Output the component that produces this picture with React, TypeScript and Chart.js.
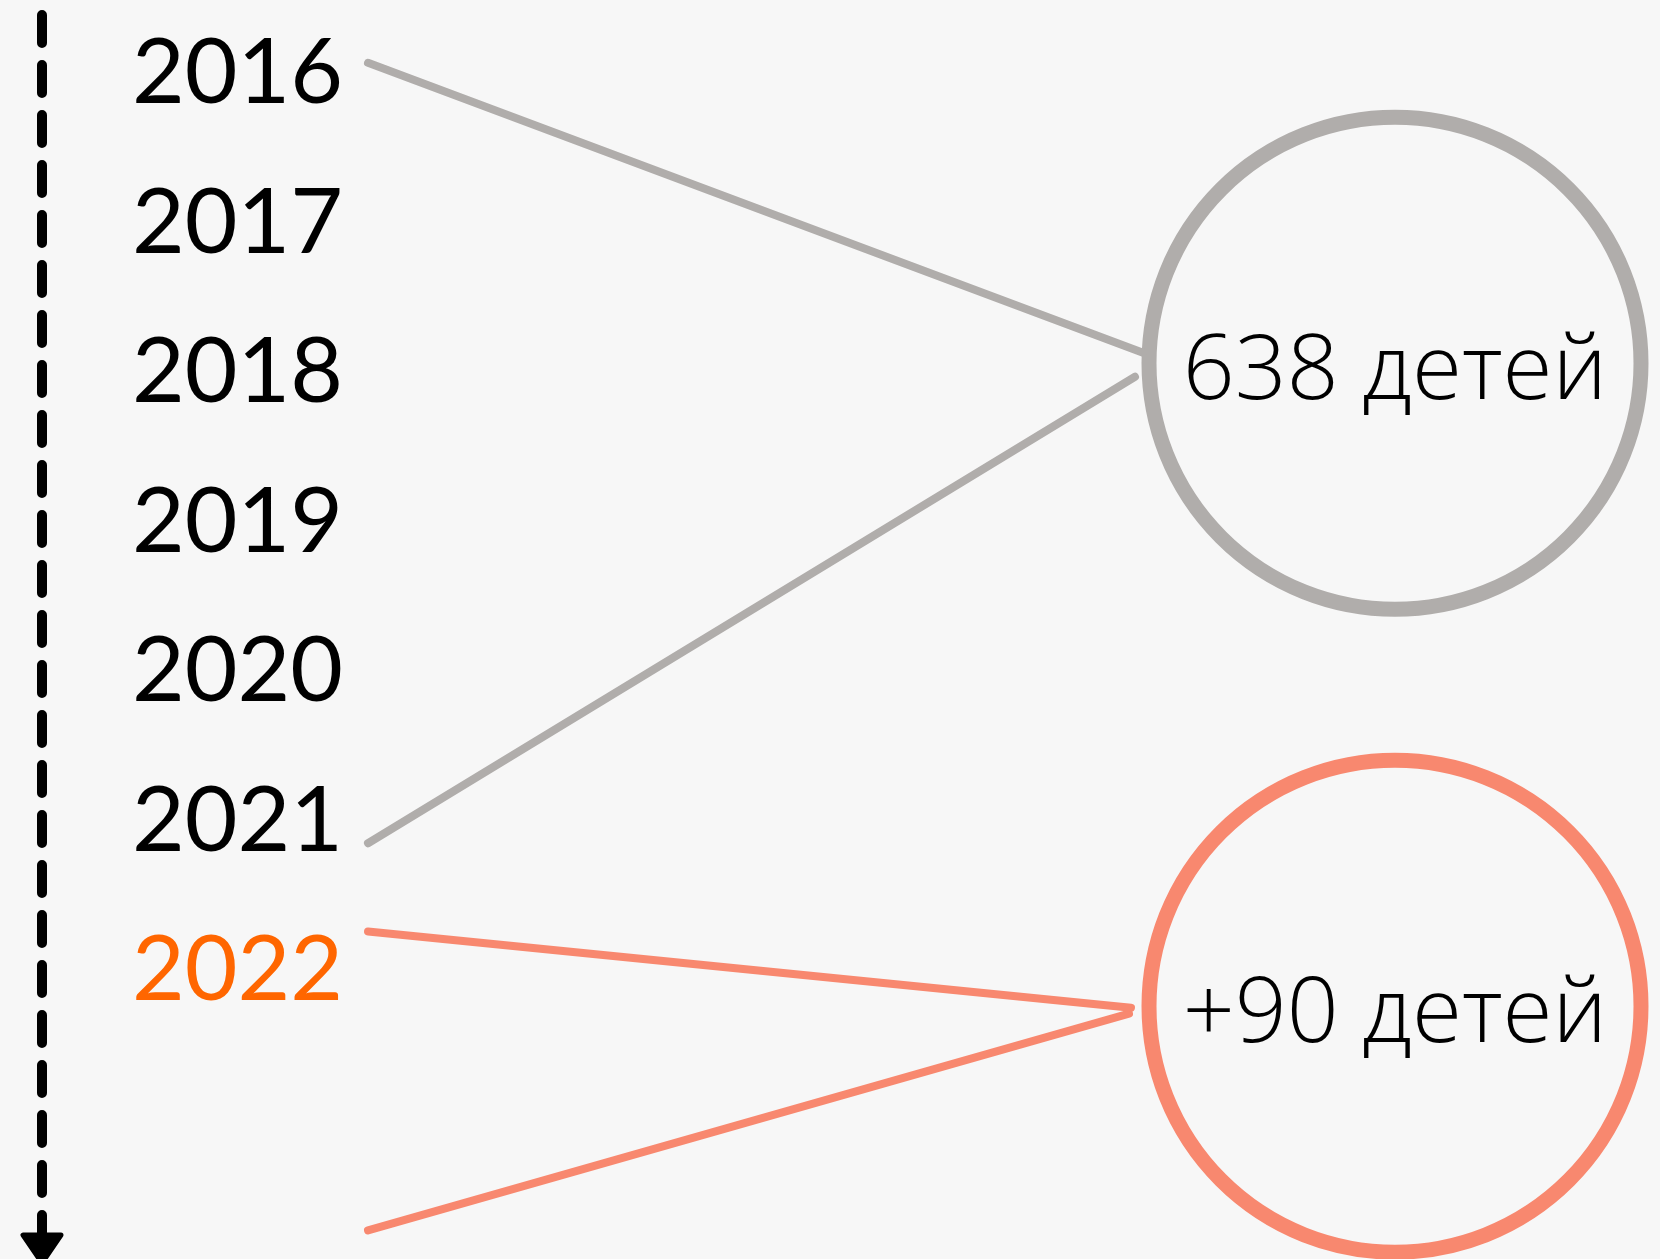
import React, { useEffect, useRef } from 'react';
import { Chart, registerables } from 'chart.js';

Chart.register(...registerables);

// ---- data ----
const years = ['2016', '2017', '2018', '2019', '2020', '2021', '2022'];
const highlightedYear = '2022';
const groupLabels = ['638 детей', '+90 детей'];
const groupCounts = [638, 90];
// positions on the timeline, in year-index units (0 = 2016)
const groupTimelinePos = [1.96, 6.26];
const connectorStarts = [
  [-0.05, 5.17],
  [5.76, 7.76],
];
const connectorEnds = [
  [1.89, 2.05],
  [6.27, 6.31],
];

// ---- layout / style ----
const W = 1660;
const H = 1259;
const LAYOUT = {
  yMin: -0.47,
  yMax: 7.951,
  timelineX: 42,
  timelineTop: 15,
  timelineBottom: 1240,
  arrowTop: 1235,
  arrowHalf: 19,
  arrowTip: 1263,
  yearX: 132,
  yearBaselineShift: 33,
  yearFont: '91px Lato',
  connectorStartX: 368,
  connectorEndX: [
    [1143, 1135],
    [1131, 1129],
  ],
  connectorWidth: 8,
  bubbleX: 1395,
  bubbleR: 246,
  bubbleBorder: 15,
  labelBaselineShift: 36,
  labelFont: '300 91px "Open Sans"',
};
const COLORS = {
  bg: '#f7f7f7',
  groups: ['#b0adab', '#f8886f'],
  text: '#000000',
  highlight: '#ff6600',
};

export default function App() {
  const canvasRef = useRef<HTMLCanvasElement | null>(null);

  useEffect(() => {
    document.body.style.margin = '0';
    document.body.style.background = COLORS.bg;
    let chart: Chart | null = null;
    let cancelled = false;

    const build = () => {
      if (cancelled || !canvasRef.current) return;

      const datasets: any[] = [];
      groupLabels.forEach((label, g) => {
        for (let j = 0; j < 2; j++) {
          datasets.push({
            type: 'scatter',
            label: `${label} connector ${j}`,
            data: [
              { x: LAYOUT.connectorStartX, y: connectorStarts[g][j] },
              { x: LAYOUT.connectorEndX[g][j], y: connectorEnds[g][j] },
            ],
            showLine: true,
            borderColor: COLORS.groups[g],
            backgroundColor: COLORS.groups[g],
            borderWidth: LAYOUT.connectorWidth,
            borderCapStyle: 'round',
            pointRadius: 0,
            clip: false,
          });
        }
      });
      groupLabels.forEach((label, g) => {
        datasets.push({
          type: 'bubble',
          label,
          data: [{ x: LAYOUT.bubbleX, y: groupTimelinePos[g], r: LAYOUT.bubbleR, count: groupCounts[g] }],
          borderColor: COLORS.groups[g],
          backgroundColor: 'rgba(0,0,0,0)',
          borderWidth: LAYOUT.bubbleBorder,
          hoverBorderWidth: LAYOUT.bubbleBorder,
          clip: false,
        });
      });

      const bgPlugin = {
        id: 'bg',
        beforeDraw(c: any) {
          const ctx = c.ctx;
          ctx.save();
          ctx.fillStyle = COLORS.bg;
          ctx.fillRect(0, 0, c.width, c.height);
          ctx.restore();
        },
      };

      const timelinePlugin = {
        id: 'timeline',
        beforeDatasetsDraw(c: any) {
          const ctx = c.ctx;
          ctx.save();
          ctx.strokeStyle = '#000';
          ctx.lineWidth = 10;
          ctx.lineCap = 'round';
          ctx.setLineDash([28, 22]);
          ctx.beginPath();
          ctx.moveTo(LAYOUT.timelineX, LAYOUT.timelineTop);
          ctx.lineTo(LAYOUT.timelineX, LAYOUT.timelineBottom);
          ctx.stroke();
          ctx.setLineDash([]);
          ctx.fillStyle = '#000';
          ctx.lineJoin = 'round';
          ctx.lineWidth = 5;
          ctx.beginPath();
          ctx.moveTo(LAYOUT.timelineX - LAYOUT.arrowHalf, LAYOUT.arrowTop);
          ctx.lineTo(LAYOUT.timelineX + LAYOUT.arrowHalf, LAYOUT.arrowTop);
          ctx.lineTo(LAYOUT.timelineX, LAYOUT.arrowTip);
          ctx.closePath();
          ctx.fill();
          ctx.stroke();
          ctx.restore();
        },
      };

      const labelsPlugin = {
        id: 'labels',
        afterDatasetsDraw(c: any) {
          const ctx = c.ctx;
          const yScale = c.scales.y;
          ctx.save();
          ctx.font = LAYOUT.yearFont;
          ctx.textAlign = 'left';
          ctx.textBaseline = 'alphabetic';
          years.forEach((yr, i) => {
            ctx.fillStyle = yr === highlightedYear ? COLORS.highlight : COLORS.text;
            ctx.fillText(yr, LAYOUT.yearX, yScale.getPixelForValue(i) + LAYOUT.yearBaselineShift);
          });
          ctx.font = LAYOUT.labelFont;
          ctx.textAlign = 'center';
          ctx.fillStyle = COLORS.text;
          c.data.datasets.forEach((ds: any, di: number) => {
            if (ds.type !== 'bubble') return;
            const meta = c.getDatasetMeta(di);
            const el = meta.data[0];
            if (!el) return;
            ctx.fillText(ds.label, el.x, el.y + LAYOUT.labelBaselineShift);
          });
          ctx.restore();
        },
      };

      chart = new Chart(canvasRef.current, {
        type: 'scatter',
        data: { datasets },
        options: {
          responsive: false,
          animation: false,
          devicePixelRatio: 1,
          events: [],
          layout: { padding: 0, autoPadding: false },
          plugins: {
            legend: { display: false },
            tooltip: { enabled: false },
            title: { display: false },
          },
          scales: {
            x: { type: 'linear', min: 0, max: W, display: false },
            y: { type: 'linear', min: LAYOUT.yMin, max: LAYOUT.yMax, reverse: true, display: false },
          },
        },
        plugins: [bgPlugin, timelinePlugin, labelsPlugin],
      });
    };

    const fontsApi: any = (document as any).fonts;
    if (fontsApi && fontsApi.load) {
      Promise.all([fontsApi.load(LAYOUT.yearFont), fontsApi.load(LAYOUT.labelFont)])
        .catch(() => null)
        .then(build);
    } else {
      build();
    }

    return () => {
      cancelled = true;
      if (chart) chart.destroy();
    };
  }, []);

  return (
    <div style={{ width: W, height: H, overflow: 'hidden', background: COLORS.bg }}>
      <canvas ref={canvasRef} width={W} height={H} style={{ display: 'block', width: W, height: H }} />
    </div>
  );
}
